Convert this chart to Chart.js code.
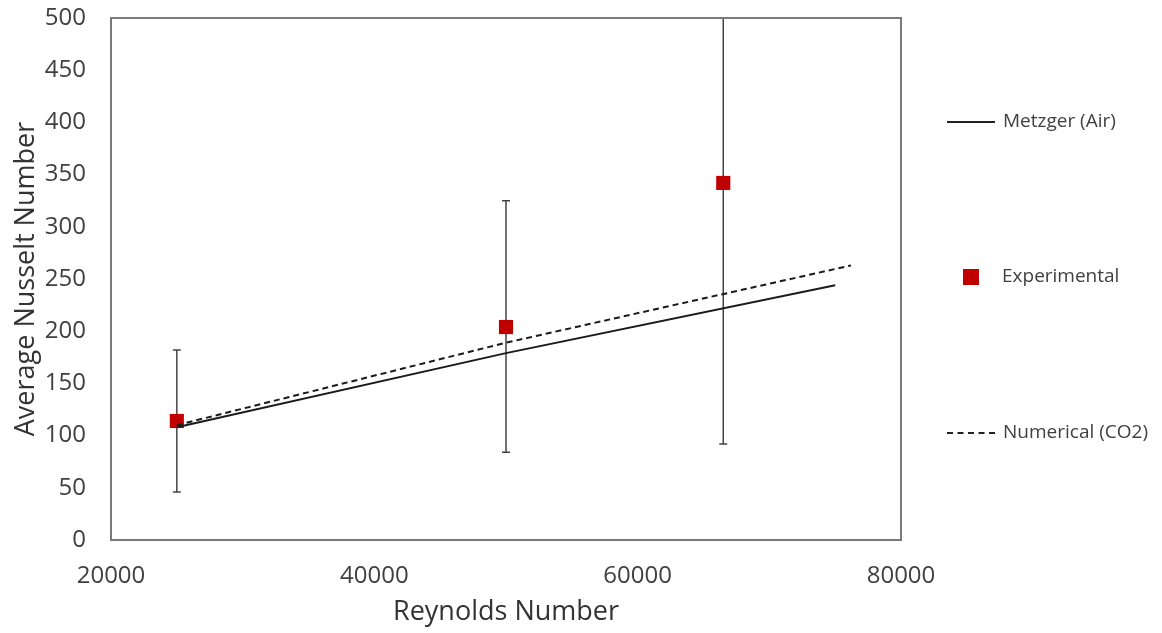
<!DOCTYPE html>
<html>
<head>
<meta charset="utf-8">
<script src="https://cdn.jsdelivr.net/npm/chart.js@4.4.0/dist/chart.umd.min.js"></script>
<style>
  body { margin: 0; background: #fff; }
  #wrap { position: relative; width: 1162px; height: 633px; font-family: "Open Sans", sans-serif; color: #404040; }
  #chart { position: absolute; left: 0; top: 0; }
  .leg { position: absolute; left: 947px; font-size: 19px; line-height: 24px; white-space: nowrap; }
  .leg .solid { display: inline-block; width: 48px; border-top: 2px solid #222; vertical-align: middle; margin-right: 8px; }
  .leg .dash { display: inline-block; width: 48px; border-top: 2px dashed #222; vertical-align: middle; margin-right: 8px; }
  .leg .sq { display: inline-block; width: 16px; height: 16px; background: #c00000; margin-left: 16px; margin-right: 23px; vertical-align: middle; }
</style>
</head>
<body>
<div id="wrap">
  <canvas id="chart" width="1162" height="633"></canvas>
  <div class="leg" style="top:108px"><span class="solid"></span>Metzger (Air)</div>
  <div class="leg" style="top:263px"><span class="sq"></span>Experimental</div>
  <div class="leg" style="top:419px"><span class="dash"></span>Numerical (CO2)</div>
</div>
<script>
// experimental points with error bars
const expRe = [25000, 50000, 66500];
const expNu = [114, 204, 342];
const expLow = [46, 84, 92];
const expHigh = [182, 325, 590];

// correlation / simulation lines
const metzgerRe = [25000, 50000, 75000];
const metzgerNu = [108, 179, 244];
const numRe = [25000, 50000, 76200];
const numNu = [110, 189, 263];

const toPts = (xs, ys) => xs.map((x, i) => ({ x: x, y: ys[i] }));

const frameAndErrors = {
  id: 'frameAndErrors',
  beforeDatasetsDraw(chart) {
    const { ctx, chartArea, scales } = chart;
    ctx.save();
    ctx.beginPath();
    ctx.rect(chartArea.left, chartArea.top, chartArea.right - chartArea.left, chartArea.bottom - chartArea.top);
    ctx.clip();
    ctx.strokeStyle = '#444';
    ctx.lineWidth = 1.5;
    expRe.forEach((re, i) => {
      const x = scales.x.getPixelForValue(re);
      const y1 = scales.y.getPixelForValue(expLow[i]);
      const y2 = scales.y.getPixelForValue(expHigh[i]);
      ctx.beginPath();
      ctx.moveTo(x, y1); ctx.lineTo(x, y2);
      ctx.moveTo(x - 4, y1); ctx.lineTo(x + 4, y1);
      ctx.moveTo(x - 4, y2); ctx.lineTo(x + 4, y2);
      ctx.stroke();
    });
    ctx.restore();
  },
  afterDraw(chart) {
    const { ctx, chartArea } = chart;
    ctx.save();
    ctx.strokeStyle = '#7a7a7a';
    ctx.lineWidth = 2;
    ctx.strokeRect(chartArea.left, chartArea.top, chartArea.right - chartArea.left, chartArea.bottom - chartArea.top);
    ctx.restore();
  }
};

new Chart(document.getElementById('chart'), {
  type: 'scatter',
  data: {
    datasets: [
      {
        label: 'Experimental',
        data: toPts(expRe, expNu),
        pointStyle: 'rect',
        pointRadius: 10,
        backgroundColor: '#c00000',
        borderColor: '#c00000',
        borderWidth: 0,
        order: 1
      },
      {
        label: 'Metzger (Air)',
        data: toPts(metzgerRe, metzgerNu),
        showLine: true,
        pointRadius: 0,
        borderColor: '#1a1a1a',
        borderWidth: 2,
        order: 0
      },
      {
        label: 'Numerical (CO2)',
        data: toPts(numRe, numNu),
        showLine: true,
        pointRadius: 0,
        borderColor: '#1a1a1a',
        borderWidth: 2,
        borderDash: [6, 4],
        order: 0
      }
    ]
  },
  options: {
    responsive: false,
    animation: false,
    layout: { padding: { top: 18, right: 261, left: 0, bottom: 0 } },
    plugins: { legend: { display: false }, tooltip: { enabled: false } },
    scales: {
      x: {
        type: 'linear',
        min: 20000, max: 80000,
        ticks: { stepSize: 20000, color: '#404040', font: { family: 'Open Sans', size: 24 }, padding: 14, maxRotation: 0,
          callback: v => String(v) },
        grid: { display: false },
        border: { display: false },
        title: { display: true, text: 'Reynolds Number', color: '#333', font: { family: 'Open Sans', size: 27 }, padding: { top: 6 } },
        afterFit(s) { s.height = 93; s.paddingLeft = 0; s.paddingRight = 0; }
      },
      y: {
        min: 0, max: 500,
        ticks: { stepSize: 50, color: '#404040', font: { family: 'Open Sans', size: 24 }, padding: 17 },
        grid: { display: false },
        border: { display: false },
        title: { display: true, text: 'Average Nusselt Number', color: '#333', font: { family: 'Open Sans', size: 27 }, padding: { top: 10, bottom: 0 } },
        afterFit(s) { s.width = 111; s.paddingTop = 0; s.paddingBottom = 0; }
      }
    }
  },
  plugins: [frameAndErrors]
});
</script>
</body>
</html>
